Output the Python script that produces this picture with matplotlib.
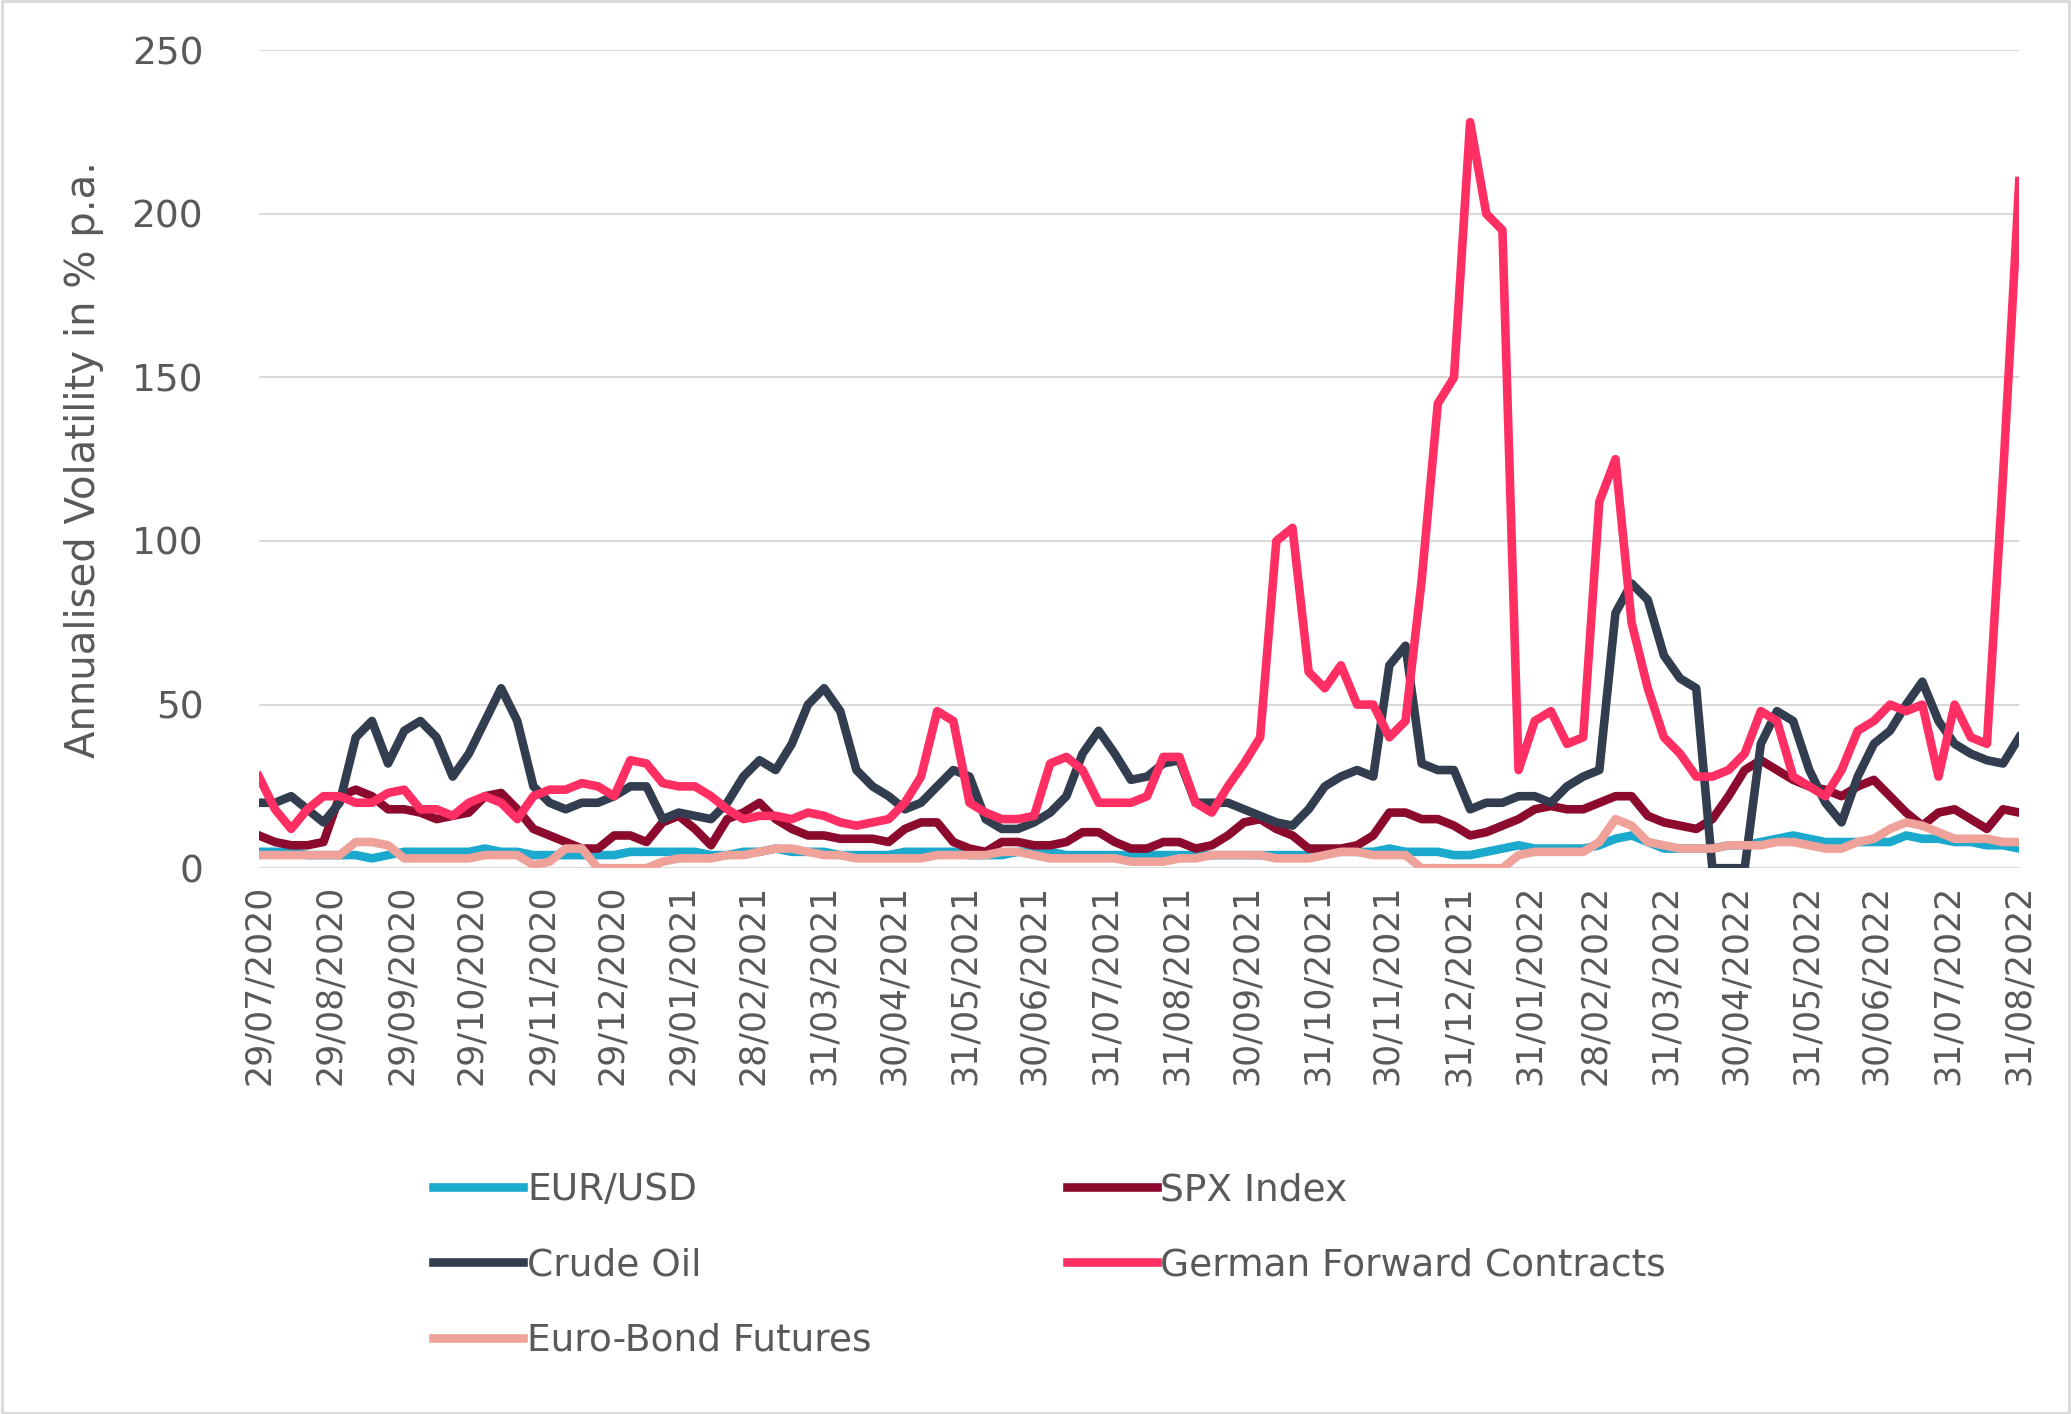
import numpy as np
import pandas as pd
import matplotlib
matplotlib.use("Agg")
import matplotlib.pyplot as plt
import matplotlib.dates as mdates

dates = pd.date_range("2020-07-29", periods=110, freq="7D")

crude_oil = [20, 20, 22, 18, 14, 20, 40, 45, 32, 42, 45, 40, 28, 35, 45, 55, 45, 25, 20, 18,
             20, 20, 22, 25, 25, 15, 17, 16, 15, 20, 28, 33, 30, 38, 50, 55, 48, 30, 25, 22,
             18, 20, 25, 30, 28, 15, 12, 12, 14, 17, 22, 35, 42, 35, 27, 28, 32, 33, 20, 20,
             20, 18, 16, 14, 13, 18, 25, 28, 30, 28, 62, 68, 32, 30, 30, 18, 20, 20, 22, 22,
             20, 25, 28, 30, 78, 87, 82, 65, 58, 55, 0, 0, 0, 38, 48, 45, 30, 20, 14, 28,
             38, 42, 50, 57, 45, 38, 35, 33, 32, 40]
german_fwd = [28, 18, 12, 18, 22, 22, 20, 20, 23, 24, 18, 18, 16, 20, 22, 20, 15, 22, 24, 24,
              26, 25, 22, 33, 32, 26, 25, 25, 22, 18, 15, 16, 16, 15, 17, 16, 14, 13, 14, 15,
              20, 28, 48, 45, 20, 17, 15, 15, 16, 32, 34, 30, 20, 20, 20, 22, 34, 34, 20, 17,
              25, 32, 40, 100, 104, 60, 55, 62, 50, 50, 40, 45, 88, 142, 150, 228, 200, 195, 30, 45,
              48, 38, 40, 112, 125, 75, 55, 40, 35, 28, 28, 30, 35, 48, 45, 28, 25, 22, 30, 42,
              45, 50, 48, 50, 28, 50, 40, 38, 120, 210]
spx = [10, 8, 7, 7, 8, 22, 24, 22, 18, 18, 17, 15, 16, 17, 22, 23, 18, 12, 10, 8,
       6, 6, 10, 10, 8, 14, 16, 12, 7, 15, 17, 20, 15, 12, 10, 10, 9, 9, 9, 8,
       12, 14, 14, 8, 6, 5, 8, 8, 7, 7, 8, 11, 11, 8, 6, 6, 8, 8, 6, 7,
       10, 14, 15, 12, 10, 6, 6, 6, 7, 10, 17, 17, 15, 15, 13, 10, 11, 13, 15, 18,
       19, 18, 18, 20, 22, 22, 16, 14, 13, 12, 15, 22, 30, 33, 30, 27, 25, 24, 22, 25,
       27, 22, 17, 13, 17, 18, 15, 12, 18, 17]
eur_usd = [5, 5, 5, 4, 4, 4, 4, 3, 4, 5, 5, 5, 5, 5, 6, 5, 5, 4, 4, 4,
           4, 4, 4, 5, 5, 5, 5, 5, 4, 4, 5, 5, 6, 5, 5, 5, 4, 4, 4, 4,
           5, 5, 5, 5, 4, 4, 4, 5, 5, 5, 4, 4, 4, 4, 4, 4, 4, 4, 4, 4,
           4, 4, 4, 4, 4, 4, 5, 5, 5, 5, 6, 5, 5, 5, 4, 4, 5, 6, 7, 6,
           6, 6, 6, 7, 9, 10, 8, 6, 6, 6, 6, 7, 7, 8, 9, 10, 9, 8, 8, 8,
           8, 8, 10, 9, 9, 8, 8, 7, 7, 6]
euro_bond = [4, 4, 4, 4, 4, 4, 8, 8, 7, 3, 3, 3, 3, 3, 4, 4, 4, 1, 2, 6,
             6, 0, 0, 0, 0, 2, 3, 3, 3, 4, 4, 5, 6, 6, 5, 4, 4, 3, 3, 3,
             3, 3, 4, 4, 4, 4, 5, 5, 4, 3, 3, 3, 3, 3, 2, 2, 2, 3, 3, 4,
             4, 4, 4, 3, 3, 3, 4, 5, 5, 4, 4, 4, 0, 0, 0, 0, 0, 0, 4, 5,
             5, 5, 5, 8, 15, 13, 8, 7, 6, 6, 6, 7, 7, 7, 8, 8, 7, 6, 6, 8,
             9, 12, 14, 13, 11, 9, 9, 9, 8, 8]

tick_labels = ["29/07/2020", "29/08/2020", "29/09/2020", "29/10/2020", "29/11/2020",
               "29/12/2020", "29/01/2021", "28/02/2021", "31/03/2021", "30/04/2021",
               "31/05/2021", "30/06/2021", "31/07/2021", "31/08/2021", "30/09/2021",
               "31/10/2021", "30/11/2021", "31/12/2021", "31/01/2022", "28/02/2022",
               "31/03/2022", "30/04/2022", "31/05/2022", "30/06/2022", "31/07/2022",
               "31/08/2022"]

grey = "#595959"
fig = plt.figure(figsize=(20.71, 14.14), dpi=100)
ax = fig.add_axes([0.125, 0.386, 0.85, 0.5785])
lw = 6.2
h_eur, = ax.plot(dates, eur_usd, color="#1BA9CE", lw=lw, label="EUR/USD")
h_spx, = ax.plot(dates, spx, color="#8B0A2E", lw=lw, label="SPX Index")
h_oil, = ax.plot(dates, crude_oil, color="#323E4F", lw=lw, label="Crude Oil")
h_ger, = ax.plot(dates, german_fwd, color="#FF2E63", lw=lw, label="German Forward Contracts")
h_bond, = ax.plot(dates, euro_bond, color="#EFA29A", lw=lw, label="Euro-Bond Futures")

tick_dates = pd.to_datetime(tick_labels, format="%d/%m/%Y")
ax.set_xticks(tick_dates)
ax.set_xticklabels(tick_labels, rotation=90)
ax.set_xlim(tick_dates[0], tick_dates[-1])
ax.set_ylim(0, 250)
ax.set_yticks(range(0, 251, 50))
ax.grid(axis="y", color="#D9D9D9", lw=1.5)
ax.set_axisbelow(True)
for s in ax.spines.values():
    s.set_visible(False)
ax.tick_params(axis="x", length=0, labelsize=25, colors=grey, pad=12)
ax.tick_params(axis="y", length=0, labelsize=27, colors=grey, pad=40)
ax.set_ylabel("Annualised Volatility in % p.a.", fontsize=29, color=grey, labelpad=20)

fig.legend([h_eur, h_oil, h_bond, h_spx, h_ger],
           ["EUR/USD", "Crude Oil", "Euro-Bond Futures", "SPX Index", "German Forward Contracts"],
           ncol=2, loc="upper left", bbox_to_anchor=(0.193, 0.195), frameon=False,
           fontsize=27, labelcolor=grey, handlelength=2.4, handletextpad=0.1,
           columnspacing=5.2, labelspacing=1.05)

fig.patches.append(plt.Rectangle((0.001, 0.001), 0.998, 0.998, transform=fig.transFigure,
                                 fill=False, edgecolor="#D9D9D9", lw=2))
fig.savefig("out.png", dpi=100)
